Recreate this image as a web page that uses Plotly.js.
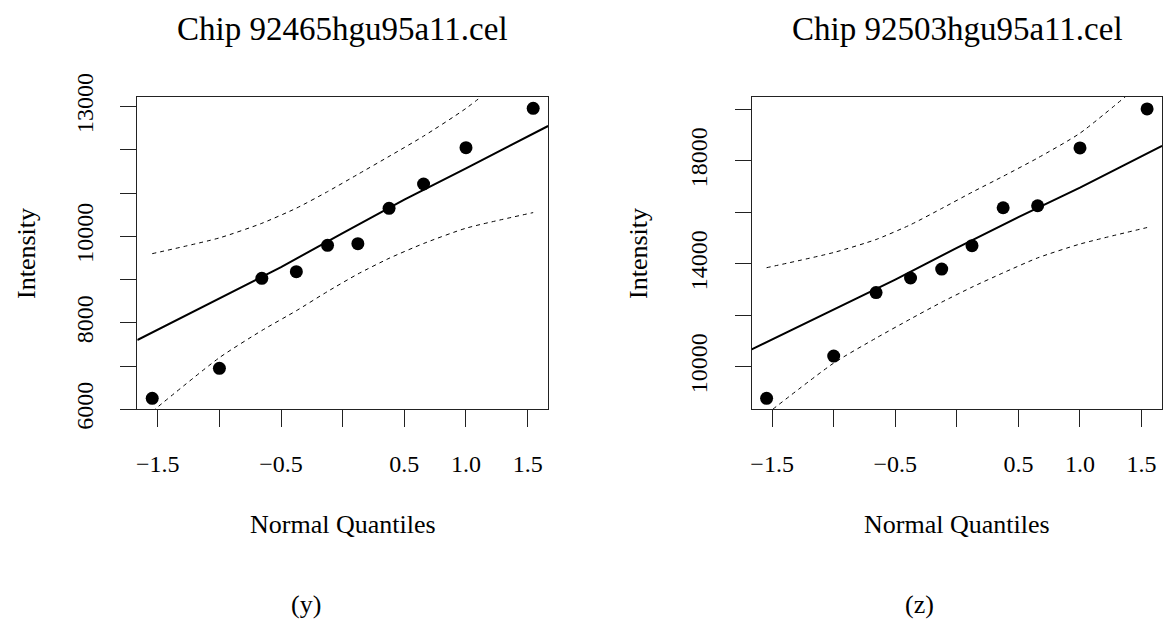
<!DOCTYPE html>
<html>
<head>
<meta charset="utf-8">
<script src="https://cdn.plot.ly/plotly-3.0.1.min.js"></script>
<style>html,body{margin:0;padding:0;background:#fff;}</style>
</head>
<body>
<div id="chart" style="width:1163px;height:619px;"></div>
<script>
// ---- data ----
const quantiles = [-1.545, -1.0, -0.656, -0.376, -0.123, 0.123, 0.376, 0.656, 1.0, 1.545];

const chipYValues = [6254, 6948, 9030, 9183, 9794, 9831, 10650, 11212, 12051, 12963];
const chipYUpper  = [9600, 9965, 10302, 10652, 11035, 11435, 11850, 12319, 12961, 14190];
const chipYLower  = [5950, 7195, 7822, 8280, 8725, 9130, 9492, 9835, 10189, 10550];

const chipZValues = [8775, 10415, 12884, 13450, 13798, 14705, 16178, 16256, 18504, 20016];
const chipZUpper  = [13850, 14440, 14945, 15519, 16150, 16780, 17400, 18110, 19075, 21200];
const chipZLower  = [8165, 10145, 11115, 11860, 12510, 13095, 13650, 14230, 14768, 15410];

const fitX      = [-1.666, -1.0, -0.5, 0, 0.5, 1.0, 1.666];
const chipYFit  = [7603, 8570, 9290, 10075, 10850, 11575, 12553];
const chipZFit  = [10674, 12240, 13390, 14620, 15814, 16960, 18585];

const xTickVals = [-1.5, -1.0, -0.5, 0, 0.5, 1.0, 1.5];
const xTickText = ['\u22121.5', '', '\u22120.5', '', '0.5', '1.0', '1.5'];
const yTickValsY = [6000, 7000, 8000, 9000, 10000, 11000, 12000, 13000];
const yTickTextY = ['6000', '', '8000', '', '10000', '', '', '13000'];
const yTickValsZ = [10000, 12000, 14000, 16000, 18000, 20000];
const yTickTextZ = ['10000', '', '14000', '', '18000', ''];

const titles = ['Chip 92465hgu95a11.cel', 'Chip 92503hgu95a11.cel'];
const subLabels = ['(y)', '(z)'];
const xTitle = 'Normal Quantiles';
const yTitle = 'Intensity';

// ---- layout helpers ----
const W = 1163, H = 619;
const FONT = 'Liberation Serif, Times New Roman, serif';
const xp = p => p / W;
const yp = p => 1 - p / H;

function panelTraces(xa, ya, vals, up, lo, fit) {
  return [
    {x: quantiles, y: up, xaxis: xa, yaxis: ya, mode: 'lines', type: 'scatter',
     line: {color: '#000', width: 1, dash: '4px,4px', shape: 'spline', smoothing: 0.6}, hoverinfo: 'skip'},
    {x: quantiles, y: lo, xaxis: xa, yaxis: ya, mode: 'lines', type: 'scatter',
     line: {color: '#000', width: 1, dash: '4px,4px', shape: 'spline', smoothing: 0.6}, hoverinfo: 'skip'},
    {x: fitX, y: fit, xaxis: xa, yaxis: ya, mode: 'lines', type: 'scatter',
     line: {color: '#000', width: 2}, hoverinfo: 'skip'},
    {x: quantiles, y: vals, xaxis: xa, yaxis: ya, mode: 'markers', type: 'scatter',
     marker: {color: '#000', size: 13}}
  ];
}

const data = [].concat(
  panelTraces('x', 'y', chipYValues, chipYUpper, chipYLower, chipYFit),
  panelTraces('x2', 'y2', chipZValues, chipZUpper, chipZLower, chipZFit)
);

const yDomain = [yp(409.3), yp(96.7)];
function xAxis(dom, anchor) {
  return {
    domain: dom, anchor: anchor, range: [-1.666, 1.666],
    tickmode: 'array', tickvals: xTickVals, ticktext: xTickText,
    ticks: 'outside', ticklen: 17, tickwidth: 1, tickcolor: '#222',
    ticklabelstandoff: 16,
    showgrid: false, zeroline: false, showline: true, mirror: true,
    linecolor: '#222', linewidth: 1,
    tickfont: {family: FONT, size: 24, color: '#000'}
  };
}
function yAxis(range, vals, text, anchor) {
  return {
    domain: yDomain, anchor: anchor, range: range,
    tickmode: 'array', tickvals: vals, ticktext: text, tickangle: -90,
    ticks: 'outside', ticklen: 16, tickwidth: 1, tickcolor: '#222',
    ticklabelstandoff: 18,
    showgrid: false, zeroline: false, showline: true, mirror: true,
    linecolor: '#222', linewidth: 1,
    tickfont: {family: FONT, size: 24, color: '#000'}
  };
}

const centers = [342.7, 957];
const annotations = [];
[0, 1].forEach(i => {
  annotations.push({text: titles[i], x: xp(centers[i]), y: yp(29.5), xref: 'paper', yref: 'paper',
    xanchor: 'center', yanchor: 'middle', showarrow: false, font: {family: FONT, size: 33, color: '#000'}});
  annotations.push({text: xTitle, x: xp(centers[i]), y: yp(524), xref: 'paper', yref: 'paper',
    xanchor: 'center', yanchor: 'middle', showarrow: false, font: {family: FONT, size: 26, color: '#000'}});
  annotations.push({text: subLabels[i], x: xp([305.6, 920][i]), y: yp(604), xref: 'paper', yref: 'paper',
    xanchor: 'center', yanchor: 'middle', showarrow: false, font: {family: FONT, size: 26, color: '#000'}});
  annotations.push({text: yTitle, x: xp([26, 638][i]), y: yp(254), xref: 'paper', yref: 'paper',
    xanchor: 'center', yanchor: 'middle', textangle: -90, showarrow: false,
    font: {family: FONT, size: 26, color: '#000'}});
});

const layout = {
  width: W, height: H,
  margin: {l: 0, r: 0, t: 0, b: 0},
  paper_bgcolor: '#fff', plot_bgcolor: '#fff',
  showlegend: false,
  xaxis: xAxis([xp(137.3), xp(548.1)], 'y'),
  yaxis: yAxis([6000, 13231], yTickValsY, yTickTextY, 'x'),
  xaxis2: xAxis([xp(751.7), xp(1162)], 'y2'),
  yaxis2: yAxis([8349, 20492], yTickValsZ, yTickTextZ, 'x2'),
  annotations: annotations
};

Plotly.newPlot('chart', data, layout, {displayModeBar: false, staticPlot: true});
</script>
</body>
</html>
